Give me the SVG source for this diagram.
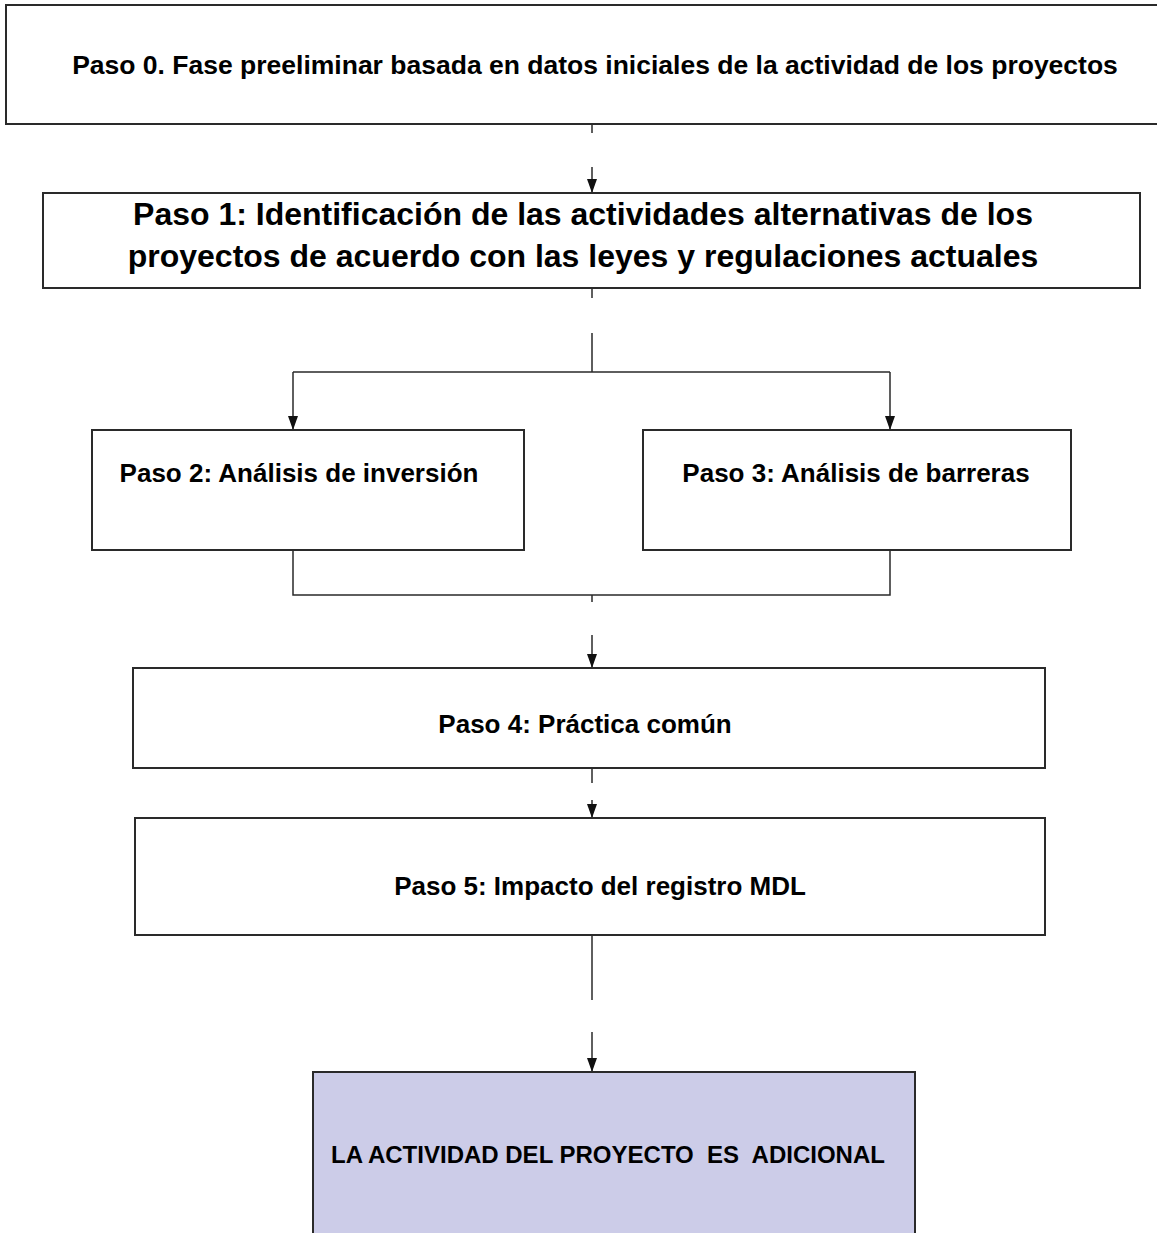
<svg xmlns="http://www.w3.org/2000/svg" width="1157" height="1233" viewBox="0 0 1157 1233">
<style>
.box{fill:#ffffff;stroke:#2a2a2a;stroke-width:2}
.fin{fill:#cccce8;stroke:#2a2a2a;stroke-width:2}
.t{font-family:"Liberation Sans",Arial,sans-serif;font-weight:bold;fill:#000;text-anchor:middle}
.c{fill:none;stroke:#2a2a2a;stroke-width:1.5}
</style>
<defs>
<marker id="ahv" viewBox="0 0 10 14" refX="5" refY="14" markerWidth="10" markerHeight="14" markerUnits="userSpaceOnUse">
<path d="M0,0 L10,0 L5,14 z" fill="#111"/>
</marker>
</defs>
<rect width="1157" height="1233" fill="#ffffff"/>
<g id="connectors">
<path class="c" d="M592,124 V133"/>
<path class="c" d="M592,167 V193" marker-end="url(#ahv)"/>
<path class="c" d="M592,288 V298"/>
<path class="c" d="M592,333 V372 M293,372 H890"/>
<path class="c" d="M293,372 V430" marker-end="url(#ahv)"/>
<path class="c" d="M890,372 V430" marker-end="url(#ahv)"/>
<path class="c" d="M293,550 V595 H890 V550"/>
<path class="c" d="M592,595 V602"/>
<path class="c" d="M592,635 V668" marker-end="url(#ahv)"/>
<path class="c" d="M592,768 V783"/>
<path class="c" d="M592,800 V818" marker-end="url(#ahv)"/>
<path class="c" d="M592,935 V1000"/>
<path class="c" d="M592,1032 V1072" marker-end="url(#ahv)"/>
</g>
<g id="paso0">
<rect class="box" x="6" y="5" width="1160" height="119"/>
<text class="t" x="595" y="74" font-size="26.5">Paso 0. Fase preeliminar basada en datos iniciales de la actividad de los proyectos</text>
</g>
<g id="paso1">
<rect class="box" x="43" y="193" width="1097" height="95"/>
<text class="t" x="583" y="225" font-size="32">Paso 1: Identificación de las actividades alternativas de los</text>
<text class="t" x="583" y="267" font-size="32">proyectos de acuerdo con las leyes y regulaciones actuales</text>
</g>
<g id="paso2">
<rect class="box" x="92" y="430" width="432" height="120"/>
<text class="t" x="299" y="482" font-size="26">Paso 2: Análisis de inversión</text>
</g>
<g id="paso3">
<rect class="box" x="643" y="430" width="428" height="120"/>
<text class="t" x="856" y="482" font-size="26">Paso 3: Análisis de barreras</text>
</g>
<g id="paso4">
<rect class="box" x="133" y="668" width="912" height="100"/>
<text class="t" x="585" y="733" font-size="26">Paso 4: Práctica común</text>
</g>
<g id="paso5">
<rect class="box" x="135" y="818" width="910" height="117"/>
<text class="t" x="600" y="895" font-size="26">Paso 5: Impacto del registro MDL</text>
</g>
<g id="resultado">
<rect class="fin" x="313" y="1072" width="602" height="180"/>
<text class="t" x="608" y="1163" font-size="24" xml:space="preserve" style="white-space:pre">LA ACTIVIDAD DEL PROYECTO  ES  ADICIONAL</text>
</g>
</svg>
